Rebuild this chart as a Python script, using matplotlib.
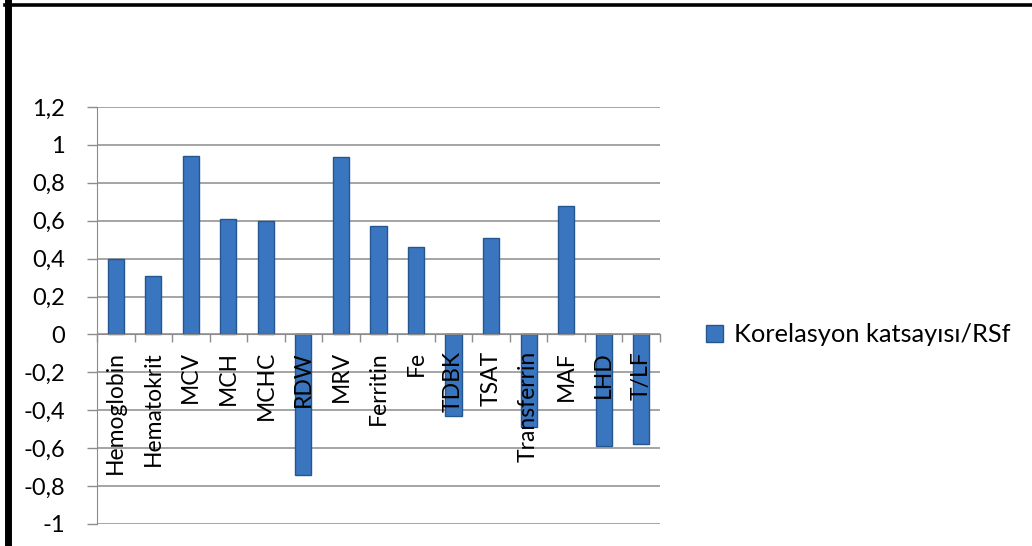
import matplotlib.pyplot as plt
from matplotlib.lines import Line2D
from matplotlib.patches import Patch
from matplotlib.ticker import FixedLocator, FuncFormatter

# Data
categories = [
    "Hemoglobin", "Hematokrit", "MCV", "MCH", "MCHC", "RDW", "MRV",
    "Ferritin", "Fe", "TDBK", "TSAT", "Transferrin", "MAF", "LHD", "T/LF",
]
values = [
    0.40, 0.31, 0.94, 0.61, 0.60, -0.74, 0.935,
    0.57, 0.46, -0.43, 0.51, -0.49, 0.68, -0.59, -0.58,
]
y_ticks = [1.2, 1, 0.8, 0.6, 0.4, 0.2, 0, -0.2, -0.4, -0.6, -0.8, -1]
series_name = "Korelasyon katsayısı/RSf"

BAR_COLOR = "#3A76C0"
BAR_EDGE = "#24568F"
GRID_COLOR = "#8C8C8C"

plt.rcParams["font.family"] = ["Lato", "DejaVu Sans"]

fig = plt.figure(figsize=(10.32, 5.46), dpi=100)
ax = fig.add_axes([0.094, 0.0403, 0.5455, 0.7637])

x = range(len(categories))

ax.bar(
    x,
    values,
    width=0.43,
    color=BAR_COLOR,
    edgecolor=BAR_EDGE,
    linewidth=1.0,
    zorder=3,
)

ax.set_xlim(-0.5, len(categories) - 0.5)
ax.set_ylim(-1, 1.2)

# y axis with comma decimals
ax.set_yticks(y_ticks)
ax.yaxis.set_major_formatter(
    FuncFormatter(lambda v, p: f"{v:g}".replace(".", ","))
)
ax.tick_params(
    axis="y",
    length=7,
    width=1,
    color=GRID_COLOR,
    labelsize=17,
    pad=16,
)

ax.grid(axis="y", color=GRID_COLOR, linewidth=1.1, zorder=0)

for side in ["top", "right"]:
    ax.spines[side].set_visible(False)
ax.spines["left"].set_color(GRID_COLOR)
ax.spines["bottom"].set_position(("data", 0))
ax.spines["bottom"].set_color(GRID_COLOR)
ax.spines["bottom"].set_zorder(4)

# category labels just below the zero line, ticks at category borders
ax.set_xticks(list(x))
ax.set_xticklabels(categories, rotation=90, fontsize=16.5, va="top")
ax.tick_params(axis="x", which="major", length=0, pad=12)
ax.xaxis.set_minor_locator(
    FixedLocator([i + 0.5 for i in range(-1, len(categories))])
)
ax.tick_params(axis="x", which="minor", length=6, width=1, color=GRID_COLOR)
ax.xaxis.set_zorder(5)

legend = ax.legend(
    handles=[Patch(facecolor=BAR_COLOR, edgecolor=BAR_EDGE, label=series_name)],
    loc="center left",
    bbox_to_anchor=(0.672, 0.387),
    bbox_transform=fig.transFigure,
    frameon=False,
    fontsize=18.3,
    handlelength=0.65,
    handleheight=0.65,
    handletextpad=0.45,
    borderpad=0,
)

# black frame edges on the left and top
fig.add_artist(Line2D([0.0078, 0.0078], [0, 1], color="black", linewidth=5,
                      transform=fig.transFigure))
fig.add_artist(Line2D([0.005, 1], [0.990, 0.990], color="black", linewidth=2.6,
                      transform=fig.transFigure))

fig.savefig("out.png", dpi=100)
